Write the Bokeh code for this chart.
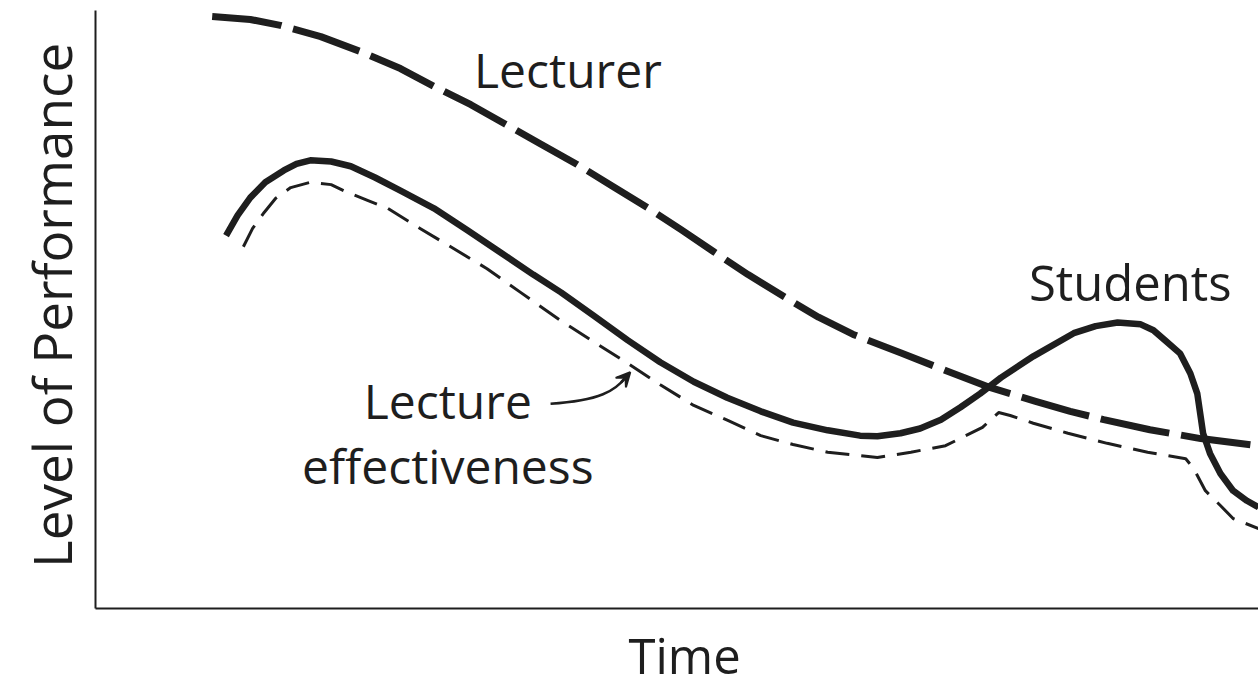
import numpy as np
from bokeh.plotting import figure
from bokeh.models import Label, Arrow, VeeHead, FixedTicker, Range1d
from bokeh.embed import file_html
from bokeh.resources import INLINE

# ---- data (time 0..100, performance 0..100) ----
lecturer_t = [10.1, 13.4, 16.0, 19.5, 22.9, 26.4, 29.3, 32.5, 35.5, 38.5, 41.7, 44.8,
              47.8, 50.7, 53.5, 56.5, 59.6, 62.6, 65.6, 69.7, 73.6, 77.5, 81.4, 84.4,
              87.3, 91.3, 95.7, 100.7]
lecturer_v = [100.0, 99.5, 98.5, 96.6, 94.1, 91.2, 88.2, 85.1, 81.8, 78.5, 75.0, 71.3,
              67.7, 64.0, 60.3, 56.4, 52.7, 49.2, 46.3, 43.2, 40.2, 37.3, 35.0, 33.3,
              31.9, 30.2, 28.7, 27.5]

students_t = [11.3, 12.3, 13.4, 14.7, 16.3, 17.4, 18.6, 20.4, 22.1, 24.2, 26.4, 29.3, 32.2,
              35.1, 37.9, 40.3, 43.1, 46.1, 48.9, 51.8, 54.7, 57.6, 60.4, 63.4, 66.2,
              67.7, 69.7, 71.4, 73.2, 74.9, 76.6, 78.4, 81.2, 84.7, 86.6, 88.5, 90.5, 91.6,
              92.6, 93.9, 94.8, 95.4, 95.7, 95.9, 96.5, 97.4, 98.5, 99.7, 100.7]
students_v = [63.0, 66.4, 69.4, 72.0, 74.0, 75.1, 75.7, 75.5, 74.7, 72.8, 70.6, 67.6, 63.9,
              60.1, 56.4, 53.4, 49.5, 45.3, 41.6, 38.3, 35.6, 33.3, 31.4, 30.1, 29.2,
              29.1, 29.6, 30.4, 31.9, 34.0, 36.3, 39.0, 42.6, 46.5, 47.7, 48.3, 48.0, 47.0,
              45.3, 43.1, 39.7, 36.3, 32.3, 29.6, 26.2, 22.8, 19.9, 18.2, 17.1]

effect_t = [12.8, 13.6, 14.6, 15.6, 16.9, 18.6, 20.4, 21.8, 23.6, 25.3, 28.1, 31.0,
            33.9, 36.8, 40.3, 43.1, 46.1, 48.9, 51.8, 54.7, 57.6, 60.4, 63.4, 67.7,
            70.6, 73.6, 76.8, 78.2, 79.2, 81.2, 84.2, 87.6, 91.1, 94.4, 95.1, 96.1,
            97.4, 98.5, 100.7]
effect_v = [61.1, 64.2, 66.9, 69.3, 71.1, 72.0, 71.6, 70.3, 68.9, 67.6, 64.2, 60.8,
            57.4, 53.4, 48.6, 45.1, 41.4, 37.8, 34.3, 31.8, 29.2, 27.7, 26.4, 25.5,
            26.4, 27.5, 30.6, 33.1, 32.6, 31.3, 29.6, 27.9, 26.4, 25.3, 23.6, 19.9,
            17.4, 15.2, 13.5]

x_title = "Time"
y_title = "Level of Performance"

INK = "#1e1e1e"
FONT = "Open Sans"

p = figure(width=1258, height=690, output_backend="svg", toolbar_location=None,
           x_range=Range1d(-8.23, 100.7), y_range=Range1d(-13.85, 102.7),
           min_border=0)
p.outline_line_color = None
p.grid.visible = False
p.background_fill_color = "white"
p.border_fill_color = "white"
for ax in (p.xaxis, p.yaxis):
    ax.ticker = FixedTicker(ticks=[])
    ax.major_tick_line_color = None
    ax.minor_tick_line_color = None
    ax.major_tick_out = 0
    ax.major_tick_in = 0
    ax.major_label_text_font_size = "0px"
    ax.major_label_standoff = 0
    ax.axis_line_width = 2
    ax.axis_line_color = INK
    ax.fixed_location = 0
p.xaxis.bounds = (0, 100.7)
p.yaxis.bounds = (0, 101)

p.line(lecturer_t, lecturer_v, line_width=7, line_color=INK, line_dash="70 12",
       line_cap="butt", line_join="round")
p.line(students_t, students_v, line_width=6.5, line_color=INK,
       line_cap="butt", line_join="round")
p.line(effect_t, effect_v, line_width=3, line_color=INK, line_dash="24 12",
       line_cap="butt", line_join="round")

# curved pointer from "Lecture effectiveness" to the thin dashed curve
p.bezier(x0=[39.4], y0=[34.6], x1=[46.0], y1=[39.2], cx0=[43.7], cy0=[35.1],
         cx1=[45.0], cy1=[36.8], line_width=2.5, line_color=INK)
p.add_layout(Arrow(end=VeeHead(size=14, line_color=INK, fill_color=INK, line_width=2),
                   x_start=45.5, y_start=38.2, x_end=46.3, y_end=39.9,
                   line_width=2.5, line_color=INK))

def lab(x, y, text, size, align="center", angle=0.0):
    p.add_layout(Label(x=x, y=y, text=text, text_font=FONT, text_font_size=size,
                       text_color=INK, text_align=align, text_baseline="alphabetic",
                       angle=angle))

lab(40.9, 91.0, "Lecturer", "48px")
lab(89.6, 55.2, "Students", "49px")
lab(30.5, 35.1, "Lecture", "48px")
lab(30.5, 24.2, "effectiveness", "48px")
lab(51.0, -7.9, x_title, "49px")
lab(-3.8, 51.2, y_title, "53px", angle=np.pi / 2)

open("out.html", "w").write(file_html(p, INLINE))
